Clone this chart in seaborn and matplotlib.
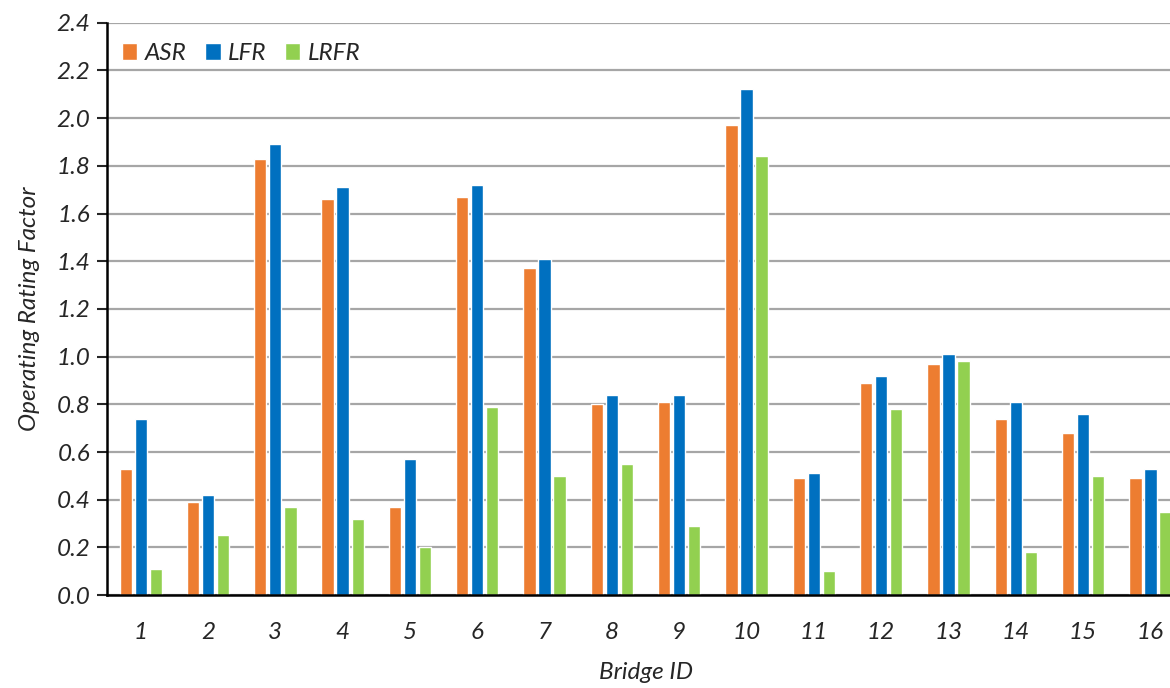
import matplotlib
matplotlib.use("Agg")
import matplotlib.pyplot as plt
import numpy as np
import pandas as pd
import seaborn as sns

# ── Data ──────────────────────────────────────────────────────────────────────
bridges = [str(i) for i in range(1, 17)]
methods = ["ASR", "LFR", "LRFR"]
asr = [0.53, 0.39, 1.83, 1.66, 0.37, 1.67, 1.37, 0.80, 0.81, 1.97, 0.49, 0.89, 0.97, 0.74, 0.68, 0.49]
lfr = [0.74, 0.42, 1.89, 1.71, 0.57, 1.72, 1.41, 0.84, 0.84, 2.12, 0.51, 0.92, 1.01, 0.81, 0.76, 0.53]
lrfr = [0.11, 0.25, 0.37, 0.32, 0.20, 0.79, 0.50, 0.55, 0.29, 1.84, 0.10, 0.78, 0.98, 0.18, 0.50, 0.35]
colors = ["#ED7D31", "#0070C0", "#92D050"]

df = pd.DataFrame({
    "Bridge ID": bridges * 3,
    "Method": np.repeat(methods, len(bridges)),
    "Factor": asr + lfr + lrfr,
})

sns.set_style("white")
plt.rcParams["font.family"] = ["Lato", "DejaVu Sans"]
plt.rcParams["font.style"] = "italic"

FS = 17.5

fig = plt.figure(figsize=(11.7, 6.88), dpi=100)
ax = fig.add_axes([0.0915, 0.135, 0.9205, 0.832])

sns.barplot(
    data=df, x="Bridge ID", y="Factor", hue="Method",
    order=bridges, hue_order=methods, palette=colors,
    width=0.67, gap=0.18, ax=ax, errorbar=None, saturation=1,
)

ax.set_ylim(0, 2.4)
ax.set_yticks(np.arange(0, 2.41, 0.2))
ax.set_yticklabels([f"{v:.1f}" for v in np.arange(0, 2.41, 0.2)], fontsize=FS, style="italic")
ax.set_xlim(-0.5, 15.5)
ax.tick_params(axis="x", length=0, pad=19, labelsize=FS)
ax.tick_params(axis="y", length=7, width=1.5, direction="out", left=True, pad=5)
for lbl in ax.get_xticklabels():
    lbl.set_style("italic")

ax.yaxis.grid(True, color="#a6a6a6", linewidth=1.6)
ax.set_axisbelow(True)
for side in ["top", "right"]:
    ax.spines[side].set_visible(False)
for side in ["left", "bottom"]:
    ax.spines[side].set_color("black")
    ax.spines[side].set_linewidth(1.8)

ax.set_xlabel("Bridge ID", fontsize=FS, style="italic", labelpad=14)
ax.set_ylabel("Operating Rating Factor", fontsize=FS, style="italic", labelpad=12)

ax.legend(
    loc="upper left", bbox_to_anchor=(0.0, 0.99), ncol=3, frameon=False,
    handlelength=0.65, handleheight=0.65, handletextpad=0.3,
    columnspacing=0.75, borderaxespad=0.2,
    prop={"style": "italic", "size": FS},
)

fig.savefig("out.png", dpi=100)
